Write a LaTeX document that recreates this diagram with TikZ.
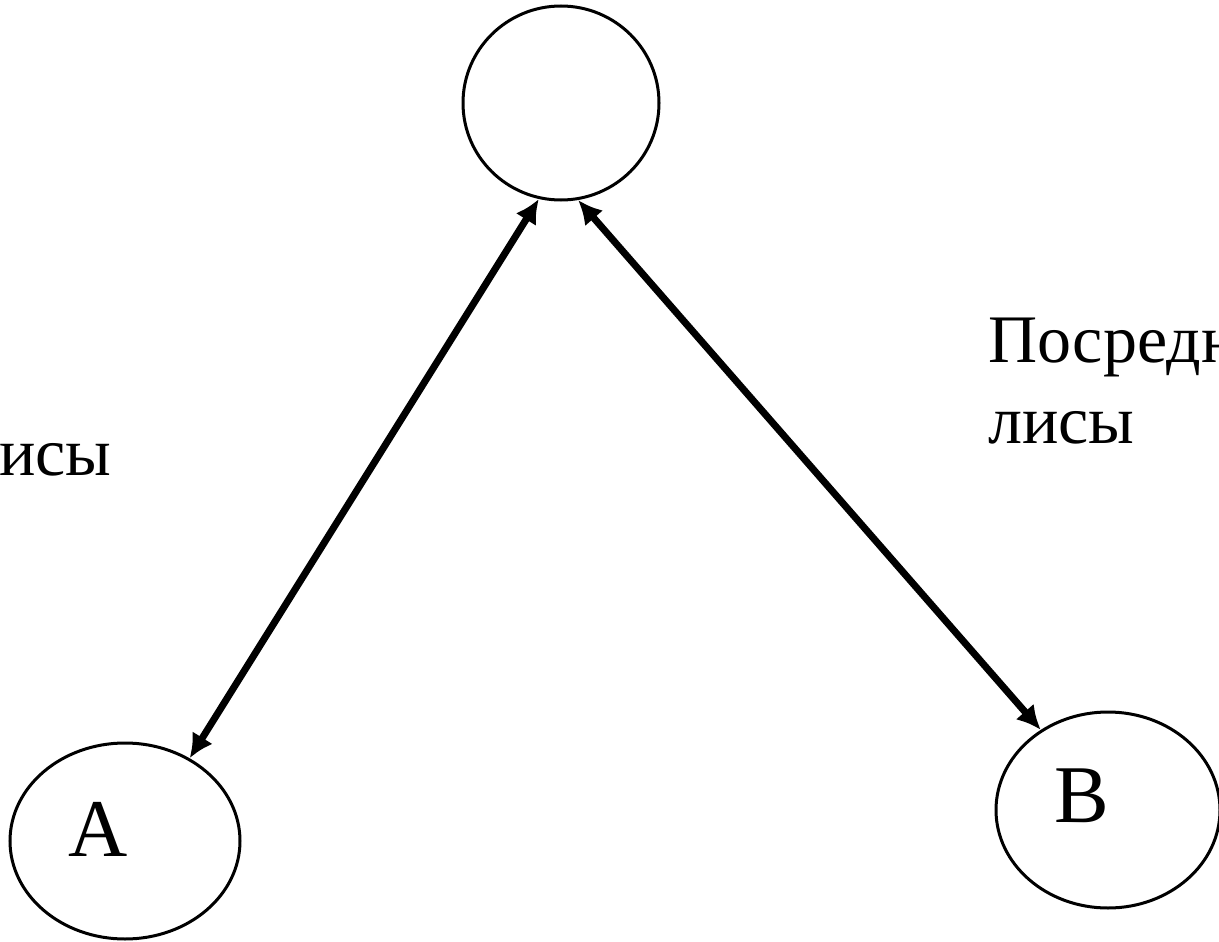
\documentclass[tikz,border=0pt]{standalone}
\usepackage{fontspec}
\setmainfont{Liberation Serif}
\usetikzlibrary{arrows.meta,shapes.geometric}
\tikzset{
  ring/.style={draw, ellipse, line width=3pt, inner sep=0pt},
  link/.style={line width=7pt, {Latex[length=24pt,width=24pt]}-{Latex[length=24pt,width=24pt]}},
  lbl/.style={font=\fontsize{82}{90}\selectfont},
  txt/.style={font=\fontsize{68}{81}\selectfont, align=left, inner sep=0pt, anchor=base west}
}
\begin{document}
\begin{tikzpicture}[x=1pt,y=-1pt]
\useasboundingbox (0,0) rectangle (1219,942);
\clip (0,0) rectangle (1219,942);
\fill[white] (0,0) rectangle (1219,942);
\node[ring, minimum width=196pt, minimum height=194pt] (top) at (561,103) {};
\node[ring, minimum width=230pt, minimum height=196pt] (A) at (125,841) {};
\node[ring, minimum width=224pt, minimum height=196pt] (B) at (1108,810) {};
\node[lbl] (la) at (98,829) {A};
\node[lbl] (lb) at (1082,796) {B};
\draw[link] (A.52) -- (top.257);
\draw[link] (top.280) -- (B.130);
\node[txt] (tr) at (988,443) {Посредники\\лисы};
\node[txt] (tl) at (-35,475) {лисы};
\end{tikzpicture}
\end{document}
